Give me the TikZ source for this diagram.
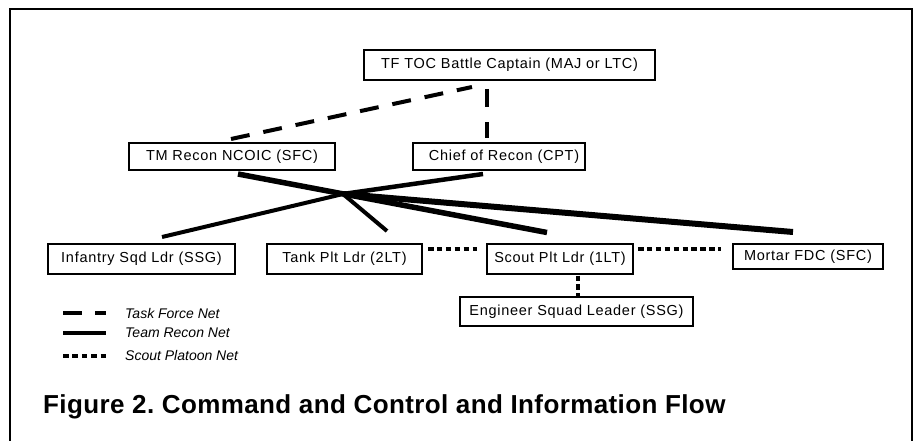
\documentclass[tikz,border=0pt]{standalone}
\usepackage{fontspec}
\setmainfont{Liberation Sans}
\newfontfamily\boxfont[LetterSpace=5]{Liberation Sans}
\newfontfamily\titlefont[LetterSpace=1.5]{Liberation Sans}
\frenchspacing
\begin{document}
\begin{tikzpicture}[x=1pt,y=-1pt,
  box/.style={draw, line width=2pt, inner sep=0pt, font=\boxfont\fontsize{14.5}{16}\selectfont},
  tfnet/.style={line width=4pt, dash pattern=on 19pt off 14pt},
  tfnetv/.style={line width=4pt, dash pattern=on 18pt off 15pt},
  trnet/.style={line width=#1},
  spnet/.style={line width=4pt, dash pattern=on 5.5pt off 3.4pt},
  legtext/.style={anchor=west, font=\itshape\fontsize{14}{16}\selectfont, inner sep=0pt}
]
\useasboundingbox (0,0) rectangle (917,441);
% frame
\draw[line width=2.3pt] (10,446) -- (10,9) -- (912,9) -- (912,446);

% boxes
\node[box, minimum width=291pt, minimum height=30pt] (toc) at (509.5,65) {TF TOC Battle Captain (MAJ or LTC)};
\node[box, minimum width=206pt, minimum height=27pt] (tm) at (232,156.5) {TM Recon NCOIC (SFC)};
\node[box, minimum width=172pt, minimum height=27pt] (chief) at (499,156.5) {\hspace*{10pt}Chief of Recon (CPT)};
\node[box, minimum width=187pt, minimum height=30pt] (inf) at (141.5,259) {Infantry Sqd Ldr (SSG)};
\node[box, minimum width=155pt, minimum height=30pt] (tank) at (344.5,259) {Tank Plt Ldr (2LT)};
\node[box, minimum width=146pt, minimum height=30pt] (scout) at (560,258.5) {Scout Plt Ldr (1LT)};
\node[box, minimum width=150pt, minimum height=25pt] (mortar) at (808,256.5) {Mortar FDC (SFC)};
\node[box, minimum width=233pt, minimum height=29pt] (eng) at (576.5,311.5) {Engineer Squad Leader (SSG)};

\coordinate (H) at (343,194);

% Task Force Net
\draw[tfnet] ([xshift=-1pt,yshift=3pt]tm.north) -- ([xshift=-37.5pt,yshift=-6pt]toc.south);
\draw[tfnetv] ([xshift=-22.5pt,yshift=-8pt]toc.south) -- ([xshift=-12pt,yshift=4pt]chief.north);

% Team Recon Net
\draw[trnet=5.5pt] ([xshift=6pt,yshift=-3pt]tm.south) -- ([xshift=-13pt,yshift=10pt]scout.north);
\draw[trnet=4.5pt] ([xshift=-16pt,yshift=-3pt]chief.south) -- (H);
\draw[trnet=4pt] (H) -- ([xshift=20.5pt,yshift=6pt]inf.north);
\draw[trnet=4pt] (H) -- ([xshift=42.5pt,yshift=12pt]tank.north);
\draw[trnet=6pt] (H) -- ([xshift=-15pt,yshift=11pt]mortar.north);

% Scout Platoon Net
\draw[spnet] ([xshift=5pt,yshift=10pt]tank.east) -- ([xshift=-9pt,yshift=9.5pt]scout.west);
\draw[spnet] ([xshift=4pt,yshift=9.5pt]scout.east) -- ([xshift=-11pt,yshift=7.5pt]mortar.west);
\draw[spnet] ([xshift=18pt,yshift=-1pt]scout.south) -- ([xshift=1.5pt]eng.north);

% legend
\coordinate (l1a) at (63,313); \coordinate (l1b) at (106,313);
\coordinate (l2a) at (63,333); \coordinate (l2b) at (106,333);
\coordinate (l3a) at (63,356); \coordinate (l3b) at (106,356);
\draw[tfnet, dash pattern=on 19pt off 13pt] (l1a) -- (l1b);
\draw[line width=4pt] (l2a) -- (l2b);
\draw[line width=4pt, dash pattern=on 5.5pt off 3.9pt] (l3a) -- (l3b);
\node[legtext] (lt1) at (125,313) {Task Force Net};
\node[legtext] (lt2) at (125,333) {Team Recon Net};
\node[legtext] (lt3) at (125,355.5) {Scout Platoon Net};

% title
\node[anchor=base west, inner sep=0pt, font=\titlefont\bfseries\fontsize{26}{30}\selectfont] (title) at (43,413) {Figure 2. Command and Control and Information Flow};
\end{tikzpicture}
\end{document}
